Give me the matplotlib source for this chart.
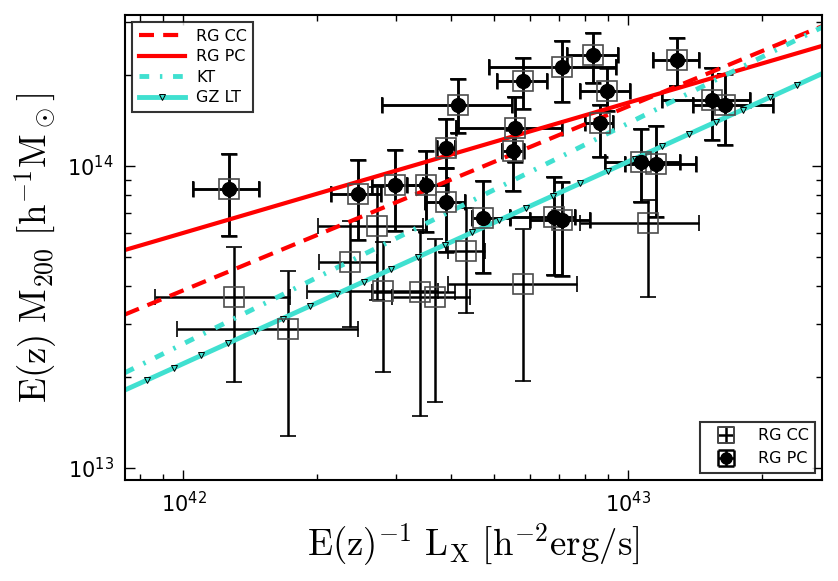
import numpy as np
import matplotlib
matplotlib.use('Agg')
import matplotlib.pyplot as plt

plt.rcParams['mathtext.fontset'] = 'cm'
plt.rcParams['font.family'] = 'DejaVu Sans'
plt.rcParams['xtick.direction'] = 'in'
plt.rcParams['ytick.direction'] = 'in'
plt.rcParams['xtick.top'] = True
plt.rcParams['ytick.right'] = True

# luminosities in units of 1e42 h^-2 erg/s, masses in units of 1e13 h^-1 Msun
# RG PC clusters (filled circles)
pc_lx    = np.array([1.265, 2.462, 2.987, 3.505, 4.130, 3.882, 3.882, 4.716, 5.570, 5.490, 5.80,
                     7.096, 8.332, 8.929, 8.625, 6.805, 7.073, 10.70, 11.51, 12.89, 15.44, 16.47])
pc_lx_lo = np.array([1.048, 2.141, 2.647, 3.172, 2.788, 3.706, 3.487, 4.441, 4.088, 5.195, 5.053,
                     4.857, 7.259, 7.78, 7.98, 5.414, 6.003, 8.85, 9.81, 11.33, 11.87, 13.95])
pc_lx_hi = np.array([1.480, 2.777, 3.457, 3.934, 5.462, 4.073, 4.289, 5.414, 7.073, 5.821, 6.546,
                     9.354, 9.452, 10.07, 9.21, 7.578, 8.19, 13.05, 14.22, 14.42, 18.74, 21.15])
pc_m     = np.array([8.39, 8.06, 8.65, 8.65, 15.92, 11.44, 7.62, 6.70, 13.33, 11.21, 19.12,
                     21.22, 23.32, 17.71, 13.85, 6.79, 6.61, 10.33, 10.15, 22.44, 16.48, 15.86])
pc_m_lo  = np.array([5.87, 5.69, 6.11, 6.05, 12.86, 9.85, 5.20, 4.43, 10.31, 8.27, 15.41,
                     16.33, 18.87, 15.25, 10.74, 4.36, 4.32, 7.62, 6.79, 18.40, 12.20, 11.73])
pc_m_hi  = np.array([10.93, 10.47, 11.30, 11.24, 19.42, 14.28, 9.85, 8.92, 16.96, 13.16, 22.73,
                     25.99, 27.50, 21.06, 15.92, 9.16, 8.85, 13.23, 13.57, 26.48, 21.06, 20.17])

# RG CC clusters (open squares): the PC ones above plus these
cc_extra_lx    = np.array([2.725, 2.365, 2.811, 3.398, 3.672, 4.311, 5.80, 11.06, 1.298, 1.719])
cc_extra_lx_lo = np.array([2.007, 2.018, 1.891, 2.647, 2.936, 3.934, 3.934, 7.78, 0.862, 0.965])
cc_extra_lx_hi = np.array([3.446, 2.716, 3.730, 4.073, 4.401, 4.758, 7.645, 14.42, 1.734, 2.47])
cc_extra_m     = np.array([6.34, 4.80, 3.855, 3.826, 3.69, 5.23, 4.07, 6.46, 3.67, 2.886])
cc_extra_m_lo  = np.array([3.60, 2.93, 2.084, 1.486, 1.658, 3.25, 1.94, 3.69, 1.93, 1.276])
cc_extra_m_hi  = np.array([8.52, 6.58, 5.615, 6.14, 5.72, 7.26, 6.18, 7.72, 5.40, 4.50])

# scaling relations
rel_lx = np.array([0.739, 27.23])
rg_cc_rel = np.array([3.223, 29.01])
rg_pc_rel = np.array([5.27, 24.97])
kt_rel = np.array([2.068, 28.79])
gz_lx = np.array([0.720, 0.829, 0.954, 1.097, 1.262, 1.451, 1.670, 1.921, 2.210, 2.542, 2.925,
                  3.365, 3.871, 4.453, 5.123, 5.893, 6.780, 7.800, 8.974, 10.32, 11.88, 13.66,
                  15.72, 18.08, 20.80, 23.93, 27.53])
gz_m = np.array([1.781, 1.956, 2.148, 2.359, 2.591, 2.846, 3.125, 3.432, 3.770, 4.140, 4.547,
                 4.994, 5.483, 6.022, 6.614, 7.264, 7.978, 8.762, 9.621, 10.56, 11.60, 12.74,
                 13.99, 15.37, 16.88, 18.54, 20.36])

cc_lx = np.concatenate([pc_lx, cc_extra_lx]) * 1e42
cc_lx_lo = np.concatenate([pc_lx_lo, cc_extra_lx_lo]) * 1e42
cc_lx_hi = np.concatenate([pc_lx_hi, cc_extra_lx_hi]) * 1e42
cc_m = np.concatenate([pc_m, cc_extra_m]) * 1e13
cc_m_lo = np.concatenate([pc_m_lo, cc_extra_m_lo]) * 1e13
cc_m_hi = np.concatenate([pc_m_hi, cc_extra_m_hi]) * 1e13

turq = '#40E0D0'

fig = plt.figure(figsize=(8.38, 5.81), dpi=100)
ax = fig.add_axes([0.1492, 0.1738, 0.8317, 0.8003])
ax.set_xscale('log')
ax.set_yscale('log')

h_cc = ax.errorbar(cc_lx, cc_m,
                   xerr=[cc_lx - cc_lx_lo, cc_lx_hi - cc_lx],
                   yerr=[cc_m - cc_m_lo, cc_m_hi - cc_m],
                   fmt='s', ms=15, mfc='none', mec='0.3', mew=1.2,
                   ecolor='k', elinewidth=1.8, capsize=6, capthick=1.8, label='RG CC')
h_pc = ax.errorbar(pc_lx * 1e42, pc_m * 1e13,
                   xerr=[(pc_lx - pc_lx_lo) * 1e42, (pc_lx_hi - pc_lx) * 1e42],
                   yerr=[(pc_m - pc_m_lo) * 1e13, (pc_m_hi - pc_m) * 1e13],
                   fmt='o', ms=10, mfc='k', mec='k',
                   ecolor='k', elinewidth=1.8, capsize=6, capthick=1.8, label='RG PC')

l1, = ax.plot(rel_lx * 1e42, rg_cc_rel * 1e13, color='red', lw=3, ls=(0, (3.6, 2.2)), label='RG CC')
l2, = ax.plot(rel_lx * 1e42, rg_pc_rel * 1e13, color='red', lw=3, ls='-', label='RG PC')
l3, = ax.plot(rel_lx * 1e42, kt_rel * 1e13, color=turq, lw=3.5, ls=(0, (2.0, 2.2, 0.5, 2.2)), label='KT')
l4, = ax.plot(gz_lx * 1e42, gz_m * 1e13, color=turq, lw=3.5, ls='-', marker='v', ms=5,
              mfc=turq, mec='k', mew=0.7, label='GZ LT')

ax.set_xlim(7.39e41, 2.723e43)
ax.set_ylim(9.12e12, 3.16e14)

ax.set_xlabel(r'$\mathrm{E(z)^{-1}\ L_X\ [h^{-2}erg/s]}$', fontsize=26.5, labelpad=4)
ax.set_ylabel(r'$\mathrm{E(z)\ M_{200}\ [h^{-1}M_\odot]}$', fontsize=26.5, labelpad=6)

ax.tick_params(which='major', length=7, width=1, labelsize=15, pad=8)
ax.tick_params(which='minor', length=4, width=1)
for s in ax.spines.values():
    s.set_linewidth(1.5)

leg1 = ax.legend(handles=[l1, l2, l3, l4], loc='upper left', fontsize=11.5, handlelength=2.9,
                 handletextpad=0.7, labelspacing=0.35, numpoints=1, fancybox=False,
                 borderaxespad=0.45)
leg1.get_frame().set_edgecolor('k')
leg1.get_frame().set_linewidth(1.5)
ax.add_artist(leg1)
leg2 = ax.legend(handles=[h_cc, h_pc], loc='lower right', fontsize=11.5, handlelength=2.4,
                 numpoints=1, fancybox=False, markerscale=0.8, borderaxespad=0.45)
leg2.get_frame().set_edgecolor('k')
leg2.get_frame().set_linewidth(1.5)

fig.savefig('out.png', dpi=100)
